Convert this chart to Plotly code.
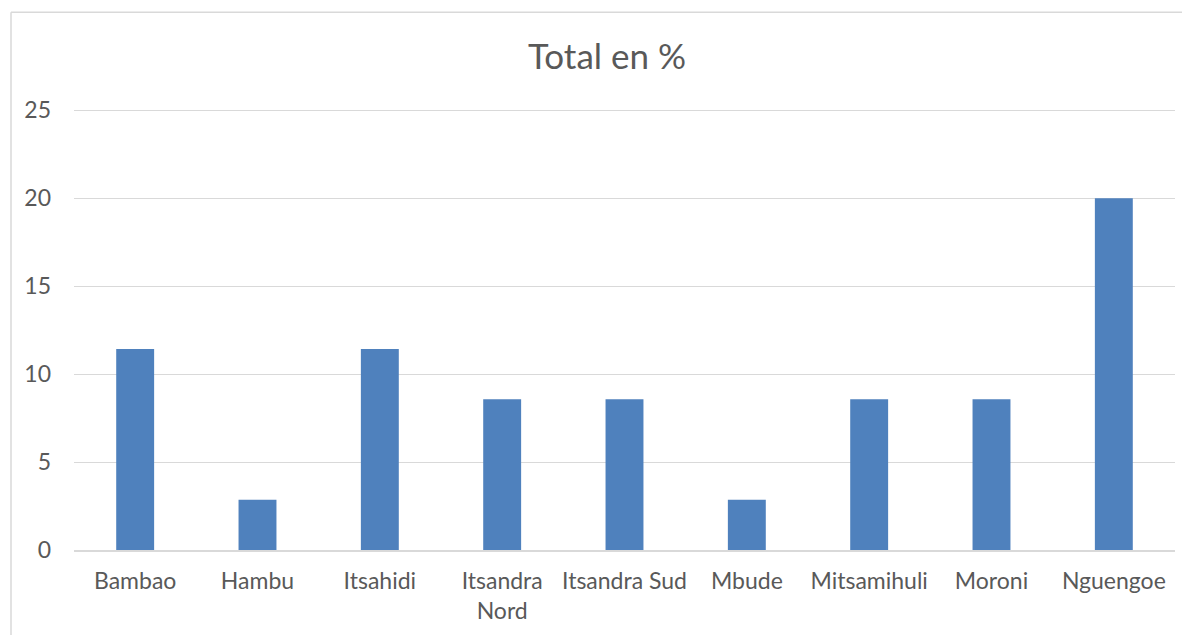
import plotly.graph_objects as go

regions = ["Bambao", "Hambu", "Itsahidi", "Itsandra<br>Nord", "Itsandra Sud",
           "Mbude", "Mitsamihuli", "Moroni", "Nguengoe"]
total_pct = [11.43, 2.86, 11.43, 8.57, 8.57, 2.86, 8.57, 8.57, 20.0]
y_ticks = [0, 5, 10, 15, 20, 25]

BAR_COLOR = "#4F81BD"
TEXT_COLOR = "#595959"
GRID_COLOR = "#D9D9D9"
FONT = "Lato, Carlito, Calibri, sans-serif"

# the page puts the figure 8px in from the top-left corner
OFF = 8
Y_MAX = 25.3  # a little headroom so the 25 gridline is drawn
PX_PER_UNIT = 440 / 25
PLOT_L, PLOT_R = 74 - OFF, 1175 - OFF
PLOT_B = 550 - OFF
PLOT_T = PLOT_B - Y_MAX * PX_PER_UNIT
PLOT_W, PLOT_H = PLOT_R - PLOT_L, PLOT_B - PLOT_T

fig = go.Figure(go.Bar(x=regions, y=total_pct, marker=dict(color=BAR_COLOR, line=dict(width=0))))

fig.update_layout(
    width=1190,
    height=635,
    margin=dict(l=PLOT_L, r=1190 - PLOT_R, t=PLOT_T, b=635 - PLOT_B),
    paper_bgcolor="white",
    plot_bgcolor="white",
    bargap=0.69,
    showlegend=False,
    font=dict(family=FONT, size=23, color=TEXT_COLOR),
    title=dict(
        text="Total en %",
        font=dict(family=FONT, size=35, color=TEXT_COLOR),
        x=(607 - OFF) / 1190,
        xanchor="center",
        y=1 - (57 - OFF) / 635,
        yanchor="middle",
    ),
)

fig.update_xaxes(
    showgrid=False,
    showline=True,
    linecolor=GRID_COLOR,
    linewidth=1.5,
    ticks="",
    ticklabelstandoff=10,
    tickangle=0,
)
fig.update_yaxes(
    range=[0, Y_MAX],
    tickvals=y_ticks,
    showgrid=True,
    gridcolor=GRID_COLOR,
    gridwidth=1,
    zeroline=False,
    showline=False,
    ticks="",
    ticklabelstandoff=22,
)

# chart area border (left and top edges, as in the original)
bx = (11 - 74) / PLOT_W
by = (PLOT_B - (12 - OFF)) / PLOT_H
fig.add_shape(type="line", xref="paper", yref="paper", x0=bx, x1=1.2, y0=by, y1=by,
              line=dict(color=GRID_COLOR, width=1.5))
fig.add_shape(type="line", xref="paper", yref="paper", x0=bx, x1=bx, y0=by, y1=-0.4,
              line=dict(color=GRID_COLOR, width=1.5))

fig.write_html("out.html")
